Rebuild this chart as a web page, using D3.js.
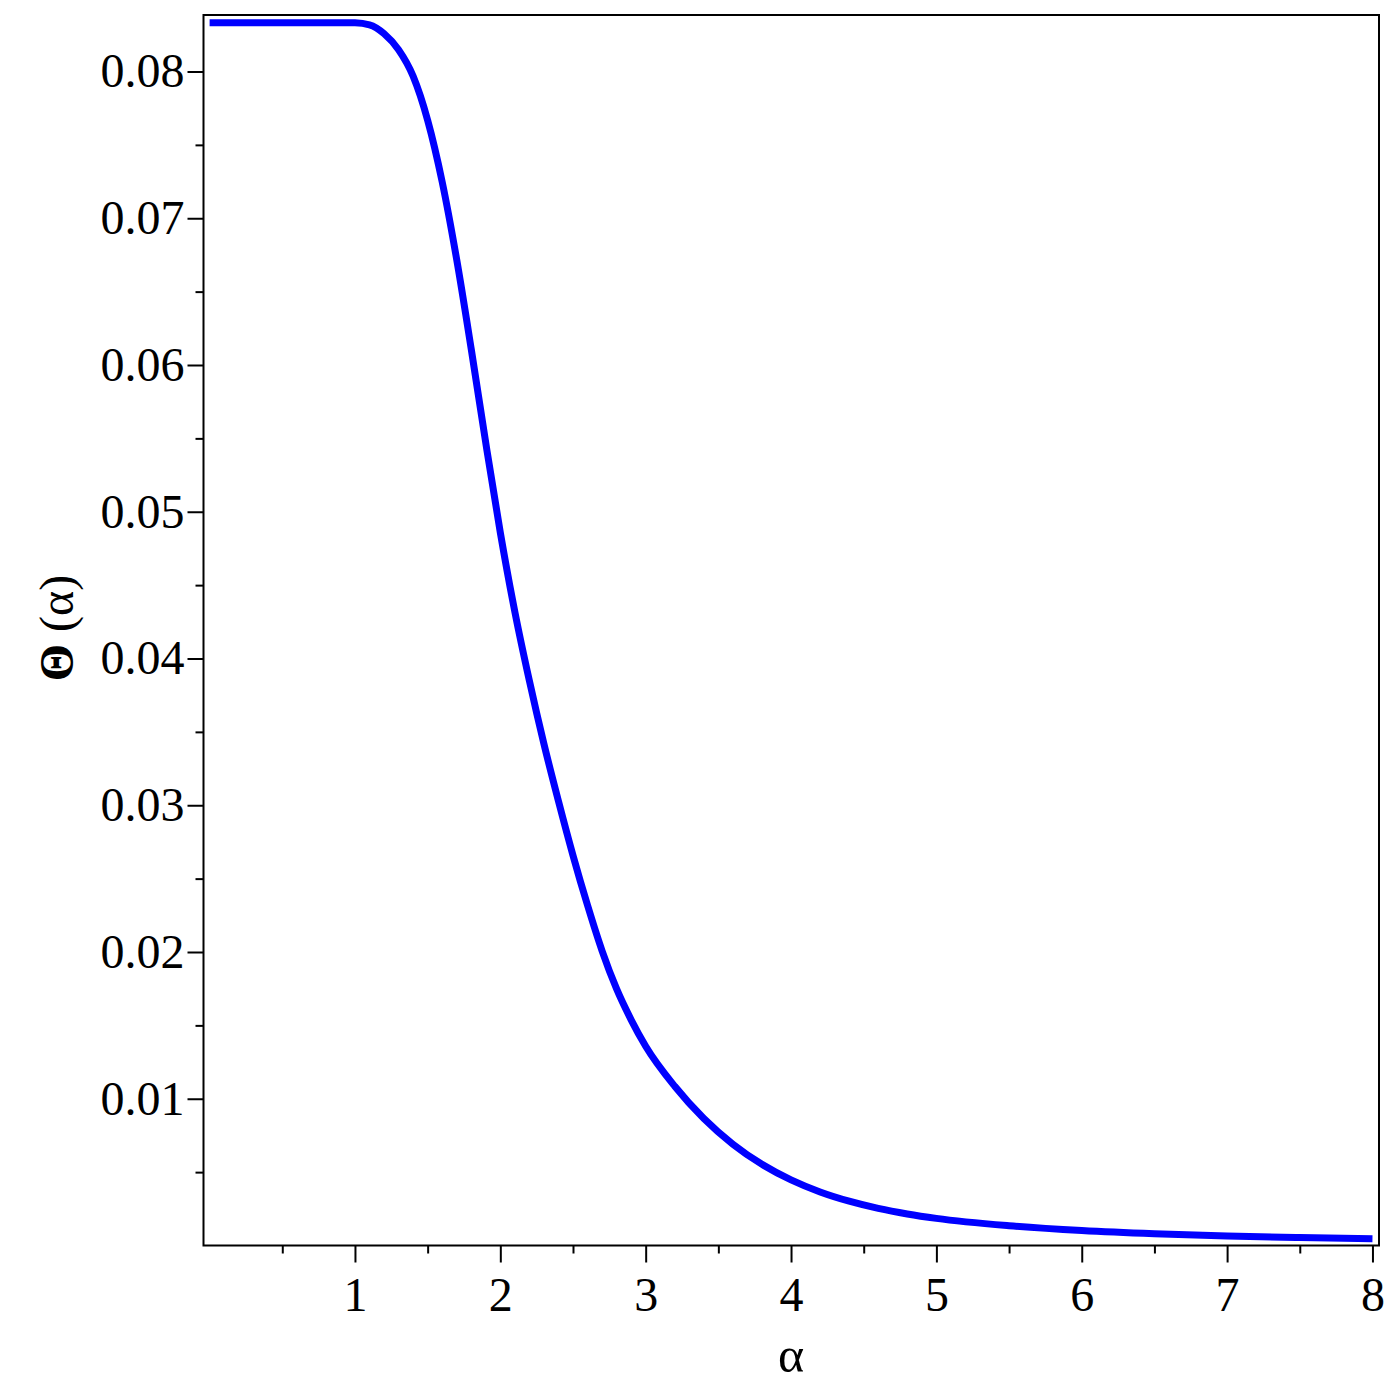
<!DOCTYPE html>
<html>
<head>
<meta charset="utf-8">
<script src="https://cdn.jsdelivr.net/npm/d3@7"></script>
<style>
  body { margin: 0; background: #fff; }
  svg text { font-family: "Liberation Serif", "Times New Roman", serif; }
</style>
</head>
<body>
<div id="chart"></div>
<script>
// values
var alphaValues = [0, 0.5, 0.9, 1.0, 1.1, 1.2, 1.3, 1.4, 1.5, 1.6, 1.7, 1.8, 1.9, 2.0, 2.1, 2.2, 2.3, 2.4, 2.5, 2.6, 2.7, 2.8, 2.9, 3.0, 3.2, 3.4, 3.6, 3.8, 4.0, 4.2, 4.4, 4.6, 4.8, 5.0, 5.5, 6.0, 6.5, 7.0, 7.5, 8.0];
var thetaValues = [0.08333, 0.08333, 0.08333, 0.08332, 0.08318, 0.08258, 0.08148, 0.07968, 0.07668, 0.07248, 0.06718, 0.06108, 0.05468, 0.04858, 0.04318, 0.03848, 0.03418, 0.03028, 0.02658, 0.02318, 0.02008, 0.01748, 0.01538, 0.01358, 0.01085, 0.00865, 0.00690, 0.00553, 0.00447, 0.00365, 0.00302, 0.00253, 0.00215, 0.00185, 0.00135, 0.00102, 0.00080, 0.00065, 0.00054, 0.00046];
var xMajorTicks = [1, 2, 3, 4, 5, 6, 7, 8];
var xMinorTicks = [0.5, 1.5, 2.5, 3.5, 4.5, 5.5, 6.5, 7.5];
var yMajorTicks = [0.01, 0.02, 0.03, 0.04, 0.05, 0.06, 0.07, 0.08];
var yMinorTicks = [0.005, 0.015, 0.025, 0.035, 0.045, 0.055, 0.065, 0.075];

var w = 1400;
var h = 1400;
var plotLeft = 203.5, plotRight = 1379, plotTop = 15, plotBottom = 1245.5; // plot frame

var xScale = d3.scaleLinear()
    .domain([-0.042, 8.045])
    .range([plotLeft, plotRight]);

var yScale = d3.scaleLinear()
    .domain([0, 0.08385])
    .range([plotBottom, plotTop]);

var svg = d3.select("#chart")
    .append("svg")
    .attr("width", w)
    .attr("height", h);

// ticks point outward, like the original
var xAxis = d3.axisBottom(xScale).tickValues(xMajorTicks).tickSize(17).tickPadding(14)
    .tickFormat(d3.format("d"));
var xAxisMinor = d3.axisBottom(xScale).tickValues(xMinorTicks).tickSize(8).tickFormat("");

var yAxis = d3.axisLeft(yScale).tickValues(yMajorTicks).tickSize(16).tickPadding(3)
    .tickFormat(d3.format(".2f"));
var yAxisMinor = d3.axisLeft(yScale).tickValues(yMinorTicks).tickSize(8).tickFormat("");

function styleAxis(g) {
    g.select(".domain").remove();
    g.selectAll("line").attr("stroke", "#000").attr("stroke-width", 2);
    g.selectAll("text").attr("fill", "#000").style("font-size", "48px");
}

svg.append("g").attr("transform", "translate(0," + plotBottom + ")").call(xAxis).call(styleAxis);
svg.append("g").attr("transform", "translate(0," + plotBottom + ")").call(xAxisMinor).call(styleAxis);
svg.append("g").attr("transform", "translate(" + plotLeft + ",0)").call(yAxis).call(styleAxis);
svg.append("g").attr("transform", "translate(" + plotLeft + ",0)").call(yAxisMinor).call(styleAxis);

// frame
svg.append("rect")
    .attr("x", plotLeft)
    .attr("y", plotTop)
    .attr("width", plotRight - plotLeft)
    .attr("height", plotBottom - plotTop)
    .attr("fill", "none")
    .attr("stroke", "#000")
    .attr("stroke-width", 2);

// curve
var line = d3.line()
    .x(function(d) { return xScale(d[0]); })
    .y(function(d) { return yScale(d[1]); })
    .curve(d3.curveMonotoneX);

svg.append("path")
    .datum(alphaValues.map(function(a, i) { return [a, thetaValues[i]]; }))
    .attr("d", line)
    .attr("fill", "none")
    .attr("stroke", "#0000ff")
    .attr("stroke-width", 7);

// axis titles
svg.append("text")
    .attr("x", 791)
    .attr("y", 1372)
    .attr("text-anchor", "middle")
    .style("font-size", "50px")
    .text("α");

var yTitle = svg.append("text")
    .attr("transform", "translate(73,628) rotate(-90)")
    .attr("text-anchor", "middle")
    .style("font-size", "48px");
yTitle.append("tspan").style("font-weight", "bold").text("Θ");
yTitle.append("tspan").text(" (α)");
</script>
</body>
</html>
